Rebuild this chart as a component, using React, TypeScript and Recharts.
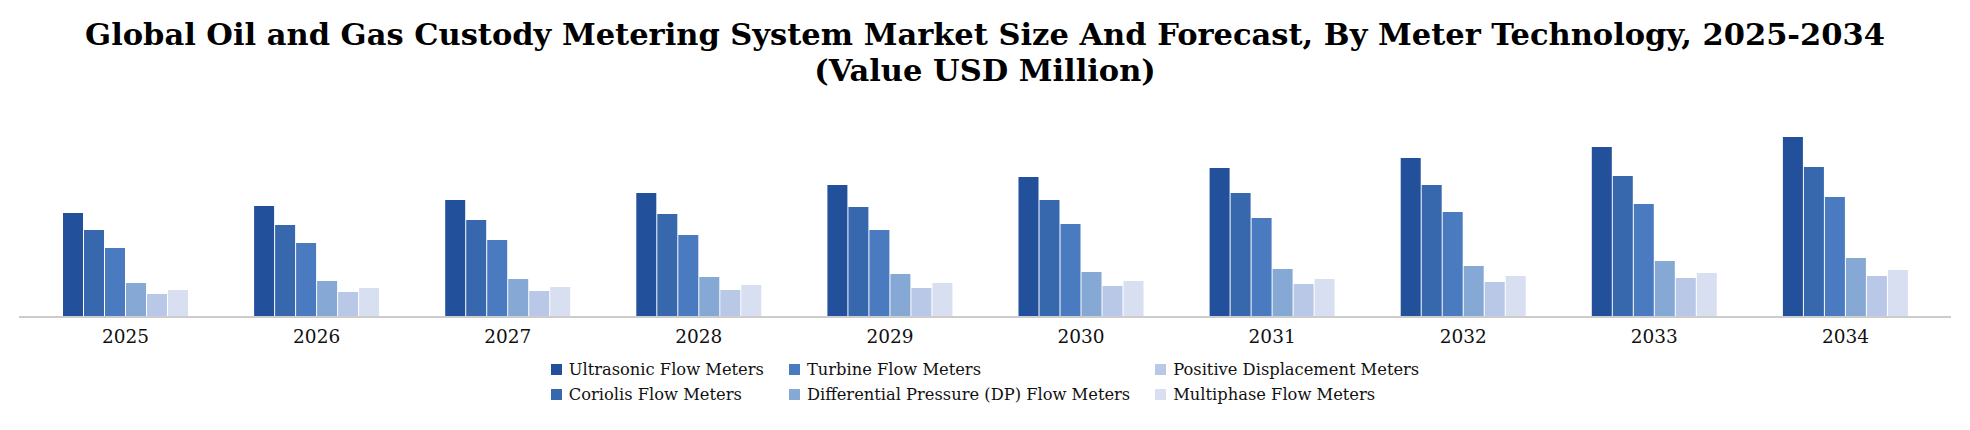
import { BarChart, Bar, XAxis, YAxis, Legend } from 'recharts';

const years = ['2025', '2026', '2027', '2028', '2029', '2030', '2031', '2032', '2033', '2034'];

// arbitrary units (no value axis shown)
const ultrasonic   = [104, 111, 117, 124, 132, 140, 149, 159, 170, 180];
const coriolis     = [87, 92, 97, 103, 110, 117, 124, 132, 141, 150];
const turbine      = [69, 74, 77, 82, 87, 93, 99, 105, 113, 120];
const diffPressure = [34, 36, 38, 40, 43, 45, 48, 51, 56, 59];
const positiveDisp = [23, 25, 26, 27, 29, 31, 33, 35, 39, 41];
const multiphase   = [27, 29, 30, 32, 34, 36, 38, 41, 44, 47];

const SERIES = [
  { key: 'ultrasonic', name: 'Ultrasonic Flow Meters', color: '#22509b', values: ultrasonic },
  { key: 'coriolis', name: 'Coriolis Flow Meters', color: '#3768ad', values: coriolis },
  { key: 'turbine', name: 'Turbine Flow Meters', color: '#4a7bc0', values: turbine },
  { key: 'dp', name: 'Differential Pressure (DP) Flow Meters', color: '#86a8d4', values: diffPressure },
  { key: 'pd', name: 'Positive Displacement Meters', color: '#b8c8e6', values: positiveDisp },
  { key: 'multi', name: 'Multiphase Flow Meters', color: '#d7dff0', values: multiphase },
];

const data = years.map((year, i) => {
  const row: Record<string, string | number> = { year };
  SERIES.forEach(s => { row[s.key] = s.values[i]; });
  return row;
});

const FONT = '"DejaVu Serif", serif';
const order = (name: string) => SERIES.findIndex(s => s.name === name);

// two rows, filled column by column like the original
const renderLegend = (props: any) => {
  const payload = [...(props.payload ?? [])].sort((a: any, b: any) => order(a.value) - order(b.value));
  return (
    <div style={{
      display: 'grid', gridAutoFlow: 'column', gridTemplateRows: '25px 25px',
      columnGap: 25, justifyContent: 'center', fontFamily: FONT, fontSize: 16.3, color: '#111',
    }}>
      {payload.map((p: any) => (
        <div key={p.value} style={{ display: 'flex', alignItems: 'center' }}>
          <span style={{ width: 11, height: 11, background: p.color, marginRight: 7, display: 'inline-block' }} />
          <span>{p.value}</span>
        </div>
      ))}
    </div>
  );
};

export default function App() {
  return (
    <div style={{ position: 'relative', width: 1970, height: 430, background: '#fff' }}>
      <style>{'body{margin:0}'}</style>
      <div style={{
        position: 'absolute', top: 16, left: 0, width: 1970, textAlign: 'center',
        fontFamily: FONT, fontWeight: 'bold', fontSize: 30.5, lineHeight: '36px', color: '#000',
      }}>
        Global Oil and Gas Custody Metering System Market Size And Forecast, By Meter Technology, 2025-2034
        <br />
        (Value USD Million)
      </div>
      <BarChart width={1970} height={430} data={data}
        margin={{ top: 117, right: 19, bottom: 23, left: 19 }}
        barCategoryGap={33} barGap={1}>
        <XAxis dataKey="year" tickLine={false} tickSize={0} tickMargin={13} height={40}
          padding={{ left: 11, right: 10 }}
          axisLine={{ stroke: '#cccccc', strokeWidth: 2 }}
          tick={{ fontFamily: FONT, fontSize: 18.5, fill: '#111' }} />
        <YAxis hide domain={[0, 200]} />
        <Legend verticalAlign="bottom" height={50} content={renderLegend} />
        {SERIES.map(s => (
          <Bar key={s.key} dataKey={s.key} name={s.name} fill={s.color} isAnimationActive={false} />
        ))}
      </BarChart>
    </div>
  );
}
